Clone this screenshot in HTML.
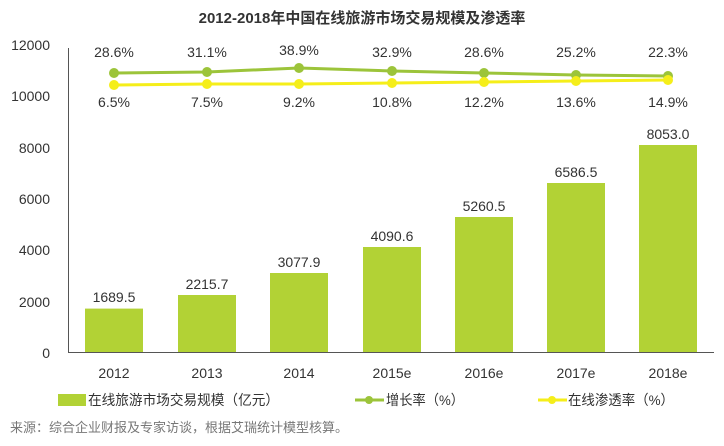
<!DOCTYPE html>
<html><head><meta charset="utf-8"><style>
body{margin:0;background:#fff;}
svg text{font-family:"Liberation Sans","Noto Sans CJK SC",sans-serif;}
</style></head><body>
<svg width="724" height="441" xmlns="http://www.w3.org/2000/svg">
<text x="362" y="23" text-anchor="middle" font-size="15" font-weight="bold" fill="#333">2012-2018年中国在线旅游市场交易规模及渗透率</text>
<g font-size="14" fill="#333" text-anchor="end">
<text x="50" y="50">12000</text><text x="50" y="101">10000</text><text x="50" y="153">8000</text>
<text x="50" y="204">6000</text><text x="50" y="255">4000</text><text x="50" y="307">2000</text><text x="50" y="358">0</text>
</g>
<line x1="68.5" y1="48" x2="68.5" y2="352" stroke="#555"/>
<line x1="68" y1="352.5" x2="714" y2="352.5" stroke="#555"/>
<g fill="#b2d235">
<rect x="85" y="308.6" width="58" height="43.4"/>
<rect x="178" y="295" width="58" height="57"/>
<rect x="270" y="273" width="58" height="79"/>
<rect x="363" y="247" width="58" height="105"/>
<rect x="455" y="217" width="58" height="135"/>
<rect x="547" y="183" width="58" height="169"/>
<rect x="639" y="145" width="58" height="207"/>
</g>
<g font-size="14" fill="#333" text-anchor="middle">
<text x="114" y="302">1689.5</text><text x="207" y="289">2215.7</text><text x="299" y="267">3077.9</text>
<text x="392" y="241">4090.6</text><text x="484" y="211">5260.5</text><text x="576" y="177">6586.5</text><text x="668" y="139">8053.0</text>
<text x="114" y="378">2012</text><text x="207" y="378">2013</text><text x="299" y="378">2014</text>
<text x="392" y="378">2015e</text><text x="484" y="378">2016e</text><text x="576" y="378">2017e</text><text x="668" y="378">2018e</text>
<text x="114" y="57">28.6%</text><text x="207" y="57">31.1%</text><text x="299" y="55">38.9%</text>
<text x="392" y="57">32.9%</text><text x="484" y="57">28.6%</text><text x="576" y="57">25.2%</text><text x="668" y="57">22.3%</text>
<text x="114" y="107">6.5%</text><text x="207" y="107">7.5%</text><text x="299" y="107">9.2%</text>
<text x="392" y="107">10.8%</text><text x="484" y="107">12.2%</text><text x="576" y="107">13.6%</text><text x="668" y="107">14.9%</text>
</g>
<polyline points="114,73 207,72 299,68 392,71 484,73 576,75 668,76" fill="none" stroke="#9cc43a" stroke-width="3"/>
<g fill="#9cc43a"><circle cx="114" cy="73" r="5"/><circle cx="207" cy="72" r="5"/><circle cx="299" cy="68" r="5"/><circle cx="392" cy="71" r="5"/><circle cx="484" cy="73" r="5"/><circle cx="576" cy="75" r="5"/><circle cx="668" cy="76" r="5"/></g>
<polyline points="114,85 207,84 299,84 392,83 484,82 576,81 668,80" fill="none" stroke="#f5ee1a" stroke-width="3"/>
<g fill="#f5ee1a"><circle cx="114" cy="85" r="5"/><circle cx="207" cy="84" r="5"/><circle cx="299" cy="84" r="5"/><circle cx="392" cy="83" r="5"/><circle cx="484" cy="82" r="5"/><circle cx="576" cy="81" r="5"/><circle cx="668" cy="80" r="5"/></g>
<rect x="58" y="394" width="28" height="12" fill="#b2d235"/>
<text x="88" y="405" font-size="14" fill="#333" textLength="191" lengthAdjust="spacingAndGlyphs">在线旅游市场交易规模（亿元）</text>
<line x1="355" y1="400" x2="384" y2="400" stroke="#9cc43a" stroke-width="3"/><circle cx="369" cy="400" r="4" fill="#9cc43a"/>
<text x="386" y="405" font-size="14" fill="#333" textLength="78" lengthAdjust="spacingAndGlyphs">增长率（%）</text>
<line x1="538" y1="400" x2="567" y2="400" stroke="#f5ee1a" stroke-width="3"/><circle cx="552" cy="400" r="4" fill="#f5ee1a"/>
<text x="568" y="405" font-size="14" fill="#333" textLength="106" lengthAdjust="spacingAndGlyphs">在线渗透率（%）</text>
<text x="10" y="432" font-size="13" fill="#777">来源：综合企业财报及专家访谈，根据艾瑞统计模型核算。</text>
</svg>
</body></html>
